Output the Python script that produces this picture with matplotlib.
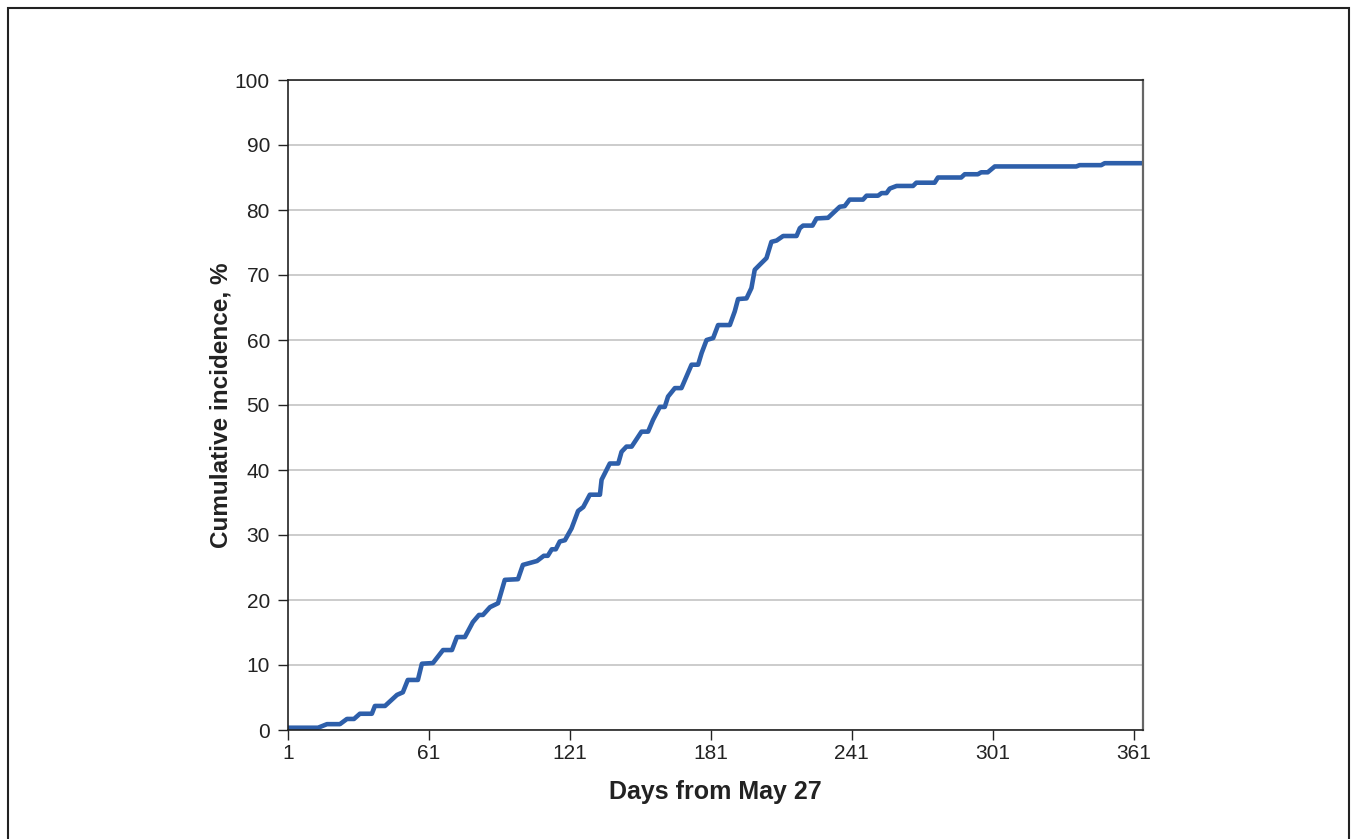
import matplotlib.pyplot as plt
from matplotlib.patches import Rectangle

# Cumulative incidence (day, percent)
days = [1, 13.8, 17.6, 23.1, 26.1, 29.1, 31.6, 36.7, 38, 42.3, 47.4, 49.9, 52, 56.3,
        58, 62.7, 67, 70.8, 72.9, 76.3, 79.7, 82.3, 84, 87, 90.4, 93.3, 98.9,
        101, 107, 109.9, 111.6, 113.3, 115, 116.7, 118.9, 121.7, 124.5, 126.7,
        129.5, 133.8, 134.5, 138, 141.6, 143, 145.1, 147.3, 151.5, 154.3, 156.4,
        159.3, 161.4, 162.8, 165.7, 168.5, 172.8, 175.6, 177.1, 179.2, 182,
        184.1, 189.1, 191.2, 192.6, 196.2, 198.3, 199.7, 201.9, 204.7, 206.8,
        209, 211.8, 217.5, 218.9, 220.3, 224.3, 226, 230.9, 235.9, 238, 240.1,
        245.8, 247.3, 252.2, 253.7, 255.8, 257.2, 260.1, 267.1, 268.5, 276.3,
        277.7, 287.6, 289.1, 294.7, 296.1, 298.9, 301.9, 336.6, 338, 347.2,
        348.7, 365]
incidence = [0.35, 0.35, 0.9, 0.9, 1.7, 1.7, 2.5, 2.5, 3.7, 3.7, 5.4, 5.8, 7.7, 7.7,
             10.2, 10.3, 12.3, 12.3, 14.3, 14.3, 16.6, 17.7, 17.7, 18.9, 19.5, 23.1, 23.2,
             25.4, 26.0, 26.8, 26.8, 27.8, 27.8, 29.0, 29.2, 31.0, 33.7, 34.3,
             36.2, 36.2, 38.5, 41.0, 41.0, 42.8, 43.6, 43.6, 45.9, 45.9, 47.7,
             49.7, 49.7, 51.3, 52.6, 52.6, 56.2, 56.2, 58.0, 60.0, 60.3,
             62.3, 62.3, 64.4, 66.3, 66.4, 68.0, 70.8, 71.6, 72.6, 75.1,
             75.3, 76.0, 76.0, 77.2, 77.6, 77.6, 78.7, 78.8, 80.5, 80.6, 81.6,
             81.6, 82.2, 82.2, 82.6, 82.6, 83.3, 83.7, 83.7, 84.2, 84.2,
             85.0, 85.0, 85.5, 85.5, 85.8, 85.8, 86.7, 86.7, 86.9, 86.9,
             87.2, 87.2]

xticks = [1, 61, 121, 181, 241, 301, 361]
yticks = list(range(0, 101, 10))

plt.rcParams['font.family'] = ['Liberation Sans', 'DejaVu Sans']

fig = plt.figure(figsize=(13.52, 8.39), dpi=100)
ax = fig.add_axes([288 / 1352, 1 - 730 / 839, (1143 - 288) / 1352, (730 - 80) / 839])

# outer frame around the figure
fig.patches.append(Rectangle((8 / 1352, -0.01), (1349 - 8) / 1352, (839 - 8) / 839 + 0.01,
                             transform=fig.transFigure, fill=False,
                             edgecolor='#222222', linewidth=1.5))

ax.plot(days, incidence, color='#2E5FAA', linewidth=3.3, solid_joinstyle='round')

ax.set_xlim(1, 365)
ax.set_ylim(0, 100)
ax.set_xticks(xticks)
ax.set_yticks(yticks)
ax.tick_params(axis='both', direction='out', length=7, width=1, labelsize=15,
               colors='#222222')
ax.tick_params(axis='x', pad=3)
ax.tick_params(axis='y', pad=6)
ax.yaxis.grid(True, color='#c8c8c8', linewidth=1.3)
ax.set_axisbelow(True)

for side in ['left', 'bottom', 'top']:
    ax.spines[side].set_color('#222222')
    ax.spines[side].set_linewidth(1.2)
ax.spines['right'].set_color('#666666')
ax.spines['right'].set_linewidth(1.6)

ax.set_xlabel('Days from May 27', fontsize=18, fontweight='bold', labelpad=12,
              color='#222222')
ax.set_ylabel('Cumulative incidence, %', fontsize=17.5, fontweight='bold', labelpad=2,
              color='#222222')

fig.savefig('out.png', dpi=100)
